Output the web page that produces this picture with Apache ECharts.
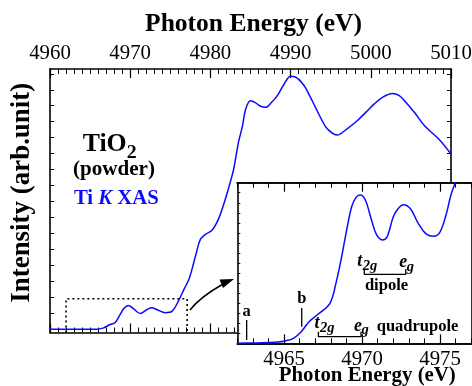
<!DOCTYPE html>
<html><head><meta charset="utf-8">
<script src="https://cdn.jsdelivr.net/npm/echarts@6/dist/echarts.min.js"></script>
<style>html,body{margin:0;padding:0;background:#fff}#c{width:472px;height:386px}</style>
</head><body><div id="c"></div><script>
// ---- data ----
const mainEnergy = [4960,4962,4964,4965,4965.8,4966.7,4967.5,4968.1,4968.75,4969.2,4969.8,4970.4,4971.25,4972.1,4972.7,4973.3,4974.4,4975.2,4976.0,4976.7,4977.3,4977.7,4978.2,4978.75,4979.4,4980.2,4981,4981.7,4982.3,4982.9,4983.5,4984,4984.4,4985,4985.6,4986.2,4986.9,4987.6,4988.3,4989.2,4990,4990.6,4991.7,4992.4,4993.1,4994,4994.6,4995.8,4997,4998.3,4999.4,5000.4,5001.5,5002.7,5003.5,5004.2,5005.5,5006.7,5008.5,5010];
const mainIntensity = [0,0,0,0,0,0.09,0.3,0.41,0.93,1.3,1.49,1.29,0.99,1.24,1.35,1.24,1.04,1.12,1.76,2.5,3.1,3.75,4.7,5.63,5.95,6.2,6.9,7.9,8.9,10.03,11.7,12.74,13.79,14.31,14.2,13.98,13.9,14.2,14.6,15.36,15.84,15.8,15.25,14.6,13.9,13.0,12.54,12.16,12.54,13.06,13.6,14.1,14.54,14.77,14.65,14.31,13.54,12.74,11.9,10.97];
const insetEnergy = [4962,4963,4964,4964.6,4965.05,4965.6,4966.1,4966.6,4967.2,4967.94,4968.37,4968.69,4969.01,4969.33,4969.61,4969.87,4970.2,4970.6,4970.9,4971.3,4971.6,4972,4972.3,4972.65,4973.1,4973.6,4974.1,4974.6,4975.0,4975.4,4975.7,4976.0];
const insetIntensity = [0,0.03,0.07,0.12,0.23,0.5,1.16,2.15,2.92,3.98,6.3,8.63,11.28,13.6,14.54,14.77,14.3,12.3,10.9,10.3,10.6,12.6,13.4,13.8,13.4,11.95,10.9,10.66,11.1,12.9,14.8,16.1];
const mainXRange = [4960, 5010];
const insetXRange = [4962, 4977];
const insetMajorTicks = [4965, 4970, 4975];
const zoomBoxTop = 1.91;
const markerA = [4962.6, 0.33, 2.32];
const markerB = [4966.13, 1.65, 3.52];
const quadBracket = [4967.2, 4969.93, 0.66, 1.16];
const dipoleBracket = [4970.14, 4972.8, 6.87, 7.4];

const F = 'Liberation Serif';
const BLUE = '#0a0aff';
const mctx = document.createElement('canvas').getContext('2d');
function mw(text, size, weight, style) {
  mctx.font = (style || 'normal') + ' ' + (weight || 'normal') + ' ' + size + 'px ' + F;
  return mctx.measureText(text).width;
}
function fit(text, target, weight, style) { return +(100 * target / mw(text, 100, weight, style)).toFixed(2); }
const S = {
  title: fit('Photon Energy (eV)', 217, 'bold'),
  ytitle: fit('Intensity (arb.unit)', 220, 'bold'),
  tick: fit('4960', 41.7, 'normal'),
  ititle: fit('Photon Energy (eV)', 177, 'bold'),
  tio: fit('TiO', 44, 'bold'),
  powder: fit('(powder)', 82, 'bold'),
  xas: fit('Ti K XAS', 87, 'bold'),
  quad: fit('quadrupole', 81.6, 'bold'),
  dip: fit('dipole', 43.3, 'bold')
};
const el = document.getElementById('c');
const chart = echarts.init(el, null, {renderer: 'canvas'});

const intTicks = Array.from({length: 17}, (_, i) => i);
const axBase = (extra) => Object.assign({
  type: 'value', splitLine: {show: false}, nameMoveOverlap: false,
  axisLine: {show: true, onZero: false, lineStyle: {color: '#000', width: 1.6}},
  axisTick: {show: true, inside: true, length: 4, lineStyle: {color: '#000', width: 1}},
  axisLabel: {show: false}
}, extra);
const plain = v => String(v);

const option = {
  animation: false,
  backgroundColor: '#fff',
  grid: [
    {left: 50, top: 69, width: 401, height: 263.5, show: false, containLabel: false, outerBoundsMode: 'none'},
    {left: 237.3, top: 182.7, width: 234, height: 160.6, show: true, backgroundColor: '#fff', borderWidth: 0, zlevel: 1,
      containLabel: false, outerBoundsMode: 'none'}
  ],
  xAxis: [
    axBase({gridIndex: 0, position: 'top', min: mainXRange[0], max: mainXRange[1], interval: 10,
      axisTick: {show: true, inside: true, length: 9, lineStyle: {color: '#000', width: 1.2}},
      minorTick: {show: true, splitNumber: 10, length: 5, lineStyle: {color: '#000', width: 1}},
      axisLabel: {show: true, formatter: plain, fontFamily: F, fontSize: S.tick, color: '#000', margin: 5, showMinLabel: true, showMaxLabel: true},
      name: 'Photon Energy (eV)', nameLocation: 'middle', nameGap: 32,
      nameTextStyle: {fontFamily: F, fontSize: S.title, fontWeight: 'bold', color: '#000', padding: [0, 0, 0, 6]}}),
    axBase({gridIndex: 0, position: 'bottom', min: mainXRange[0], max: mainXRange[1], interval: 10,
      axisTick: {show: true, inside: true, length: 9, lineStyle: {color: '#000', width: 1.2}},
      minorTick: {show: true, splitNumber: 10, length: 5, lineStyle: {color: '#000', width: 1}}}),
    axBase({gridIndex: 1, position: 'bottom', min: insetXRange[0], max: insetXRange[1], interval: 1, zlevel: 1,
      axisTick: {show: true, inside: true, length: 5, lineStyle: {color: '#000', width: 1}}}),
    axBase({gridIndex: 1, position: 'bottom', min: insetXRange[0], max: insetXRange[1], zlevel: 1,
      axisTick: {show: true, inside: true, length: 9, customValues: insetMajorTicks, lineStyle: {color: '#000', width: 1.2}},
      axisLabel: {show: true, customValues: insetMajorTicks, formatter: plain, fontFamily: F, fontSize: S.tick, color: '#000', margin: 6},
      name: 'Photon Energy (eV)', nameLocation: 'middle', nameGap: 22,
      nameTextStyle: {fontFamily: F, fontSize: S.ititle, fontWeight: 'bold', color: '#000', padding: [0, 0, 0, 26]}}),
    axBase({gridIndex: 1, position: 'top', min: insetXRange[0], max: insetXRange[1], interval: 1, zlevel: 1,
      axisTick: {show: true, inside: true, length: 5, lineStyle: {color: '#000', width: 1}}}),
    axBase({gridIndex: 1, position: 'top', min: insetXRange[0], max: insetXRange[1], zlevel: 1,
      axisTick: {show: true, inside: true, length: 9, customValues: insetMajorTicks, lineStyle: {color: '#000', width: 1.2}}})
  ],
  yAxis: [
    axBase({gridIndex: 0, position: 'left', min: -0.2, max: 16.3,
      axisTick: {show: true, inside: true, length: 4, customValues: intTicks, lineStyle: {color: '#000', width: 1}},
      name: 'Intensity (arb.unit)', nameLocation: 'middle', nameGap: 14, nameRotate: 90,
      nameTextStyle: {fontFamily: F, fontSize: S.ytitle, fontWeight: 'bold', color: '#000', padding: [0, 0, 0, 16]}}),
    axBase({gridIndex: 0, position: 'right', min: -0.2, max: 16.3,
      axisTick: {show: true, inside: true, length: 4, customValues: intTicks, lineStyle: {color: '#000', width: 1}}}),
    axBase({gridIndex: 1, position: 'left', min: 0, max: 16, interval: 1, zlevel: 1,
      axisTick: {show: true, inside: true, length: 3, lineStyle: {color: '#000', width: 1}}}),
    axBase({gridIndex: 1, position: 'right', min: 0, max: 16, interval: 1, zlevel: 1,
      axisTick: {show: false}})
  ],
  series: [
    {type: 'line', xAxisIndex: 0, yAxisIndex: 0, data: mainEnergy.map((e, i) => [e, mainIntensity[i]]),
      smooth: 0.35, showSymbol: false, lineStyle: {color: BLUE, width: 1.5}, z: 3},
    {type: 'line', xAxisIndex: 0, yAxisIndex: 0,
      data: [[insetXRange[0], -0.2], [insetXRange[0], zoomBoxTop], [4977.1, zoomBoxTop], [4977.1, -0.2]],
      showSymbol: false, lineStyle: {color: '#000', width: 1.6, type: [2, 3]}, z: 2},
    {type: 'line', xAxisIndex: 2, yAxisIndex: 2, data: insetEnergy.map((e, i) => [e, insetIntensity[i]]),
      smooth: 0.35, showSymbol: false, clip: true, lineStyle: {color: BLUE, width: 1.5}, zlevel: 1, z: 5},
    {type: 'line', xAxisIndex: 2, yAxisIndex: 2, data: [[markerA[0], markerA[1]], [markerA[0], markerA[2]]],
      showSymbol: false, lineStyle: {color: '#000', width: 1.3}, zlevel: 1, z: 4},
    {type: 'line', xAxisIndex: 2, yAxisIndex: 2, data: [[markerB[0], markerB[1]], [markerB[0], markerB[2]]],
      showSymbol: false, lineStyle: {color: '#000', width: 1.3}, zlevel: 1, z: 4},
    {type: 'line', xAxisIndex: 2, yAxisIndex: 2,
      data: [[quadBracket[0], quadBracket[3]], [quadBracket[0], quadBracket[2]], [quadBracket[1], quadBracket[2]], [quadBracket[1], quadBracket[3]]],
      showSymbol: false, lineStyle: {color: '#000', width: 1.3}, zlevel: 1, z: 4},
    {type: 'line', xAxisIndex: 2, yAxisIndex: 2,
      data: [[dipoleBracket[0], dipoleBracket[3]], [dipoleBracket[0], dipoleBracket[2]], [dipoleBracket[1], dipoleBracket[2]], [dipoleBracket[1], dipoleBracket[3]]],
      showSymbol: false, lineStyle: {color: '#000', width: 1.3}, zlevel: 1, z: 4}
  ]
};
chart.setOption(option);

const P = (x, y) => chart.convertToPixel({xAxisIndex: 2, yAxisIndex: 2}, [x, y]);
function txt(x, y, s, size, o) {
  o = o || {};
  return {type: 'text', zlevel: o.zlevel == null ? 1 : o.zlevel, z: 20, x: x, y: y,
    style: Object.assign({text: s, fontFamily: F, fontSize: size, fontWeight: o.weight || 'bold', fill: o.fill || '#000',
      fontStyle: o.italic ? 'italic' : 'normal', align: o.align || 'center', verticalAlign: o.va || 'middle'}, o.style || {})};
}
const g = [];
g.push(txt(82.7, 144.7, 'TiO', S.tio, {align: 'left', zlevel: 0}));
g.push(txt(131.7, 153, '2', S.tio * 0.77, {zlevel: 0}));
g.push(txt(114, 170, '(powder)', S.powder, {zlevel: 0}));
g.push({type: 'text', zlevel: 0, z: 20, x: 116.3, y: 198.3, style: {
  text: '{a|Ti }{k|K}{a| XAS}', align: 'center', verticalAlign: 'middle',
  rich: {a: {fontFamily: F, fontSize: S.xas, fontWeight: 'bold', fill: BLUE, color: BLUE},
         k: {fontFamily: F, fontSize: S.xas, fontWeight: 'bold', fontStyle: 'italic', fill: BLUE, color: BLUE}}}});
g.push({type: 'bezierCurve', zlevel: 0, z: 20, shape: {x1: 190, y1: 310, cpx1: 200, cpy1: 297, x2: 224, y2: 283.5},
  style: {stroke: '#000', lineWidth: 1.5, fill: null}});
g.push({type: 'polygon', zlevel: 0, z: 20, shape: {points: [[234, 279], [219.5, 279.5], [223, 288]]}, style: {fill: '#000'}});
const pa = P(markerA[0], markerA[2]);
g.push(txt(pa[0], pa[1] - 8.5, 'a', S.quad));
const pb = P(markerB[0], markerB[2]);
g.push(txt(pb[0], pb[1] - 9.5, 'b', S.quad));
const q0 = P(quadBracket[0], quadBracket[2]);
const q1 = P(quadBracket[1], quadBracket[2]);
const tS = S.quad * 1.08, sS = S.quad * 0.88;
g.push(txt(q0[0] - 1.5, q0[1] - 13, 't', tS, {italic: true}));
g.push(txt(q0[0] + 1.5, q0[1] - 8.5, '2g', sS, {italic: true, align: 'left'}));
g.push(txt(q1[0] - 3, q1[1] - 10.5, 'e', tS, {italic: true}));
g.push(txt(q1[0] + 0.5, q1[1] - 6, 'g', sS, {italic: true, align: 'left'}));
g.push(txt(q1[0] + 56.5, q1[1] - 10, 'quadrupole', S.quad));
const d0 = P(dipoleBracket[0], dipoleBracket[2]);
const d1 = P(dipoleBracket[1], dipoleBracket[2]);
g.push(txt(d0[0] - 4.5, d0[1] - 13, 't', tS, {italic: true}));
g.push(txt(d0[0] - 1.5, d0[1] - 8.5, '2g', sS, {italic: true, align: 'left'}));
g.push(txt(d1[0] - 2.5, d1[1] - 11.5, 'e', tS, {italic: true}));
g.push(txt(d1[0] + 1, d1[1] - 7, 'g', sS, {italic: true, align: 'left'}));
g.push(txt((d0[0] + d1[0]) / 2 + 1.5, d0[1] + 11, 'dipole', S.dip));
chart.setOption({graphic: {elements: g}});
</script></body></html>
